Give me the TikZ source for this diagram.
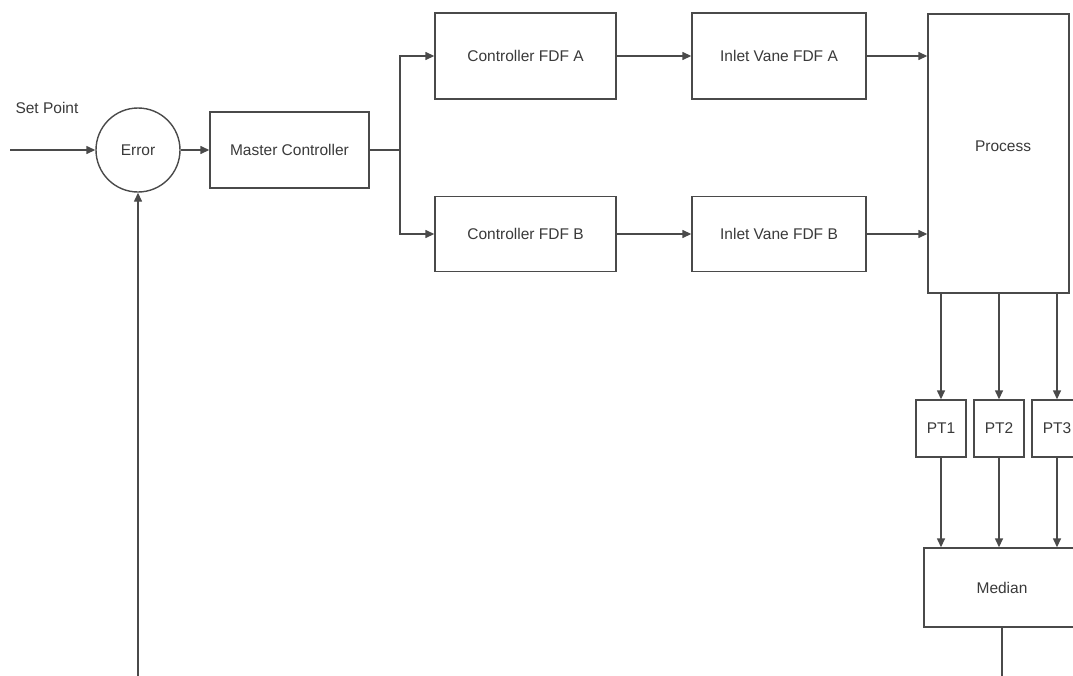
\documentclass[tikz,border=0pt]{standalone}
\usepackage{fontspec}
\setmainfont{Liberation Sans}
\usetikzlibrary{arrows.meta}
\definecolor{ln}{HTML}{4A4A4A}
\definecolor{tx}{HTML}{3A3A3A}
\begin{document}
\begin{tikzpicture}[x=1pt,y=-1pt,
  lbl/.style={text=tx,font=\fontsize{15.5}{17}\selectfont},
  blk/.style={draw=ln,line width=1.4pt,rectangle,inner sep=0pt,lbl},
  conn/.style={draw=ln,line width=1.4pt},
  arr/.style={conn,-{Triangle[length=9pt,width=8pt]}}]
\useasboundingbox (0,0) rectangle (1073,675);
\fill[white] (0,0) rectangle (1073,675);
\clip (0,0) rectangle (1073,675);
\node[blk,circle,minimum size=84pt] (err) at (138,150) {Error};
\node[blk,minimum width=159pt,minimum height=76pt] (mc) at (289.5,150) {Master Controller};
\node[blk,minimum width=181pt,minimum height=86pt] (ca) at (525.5,56) {Controller FDF A};
\node[blk,minimum width=181pt,minimum height=75pt] (cb) at (525.5,234) {Controller FDF B};
\node[blk,minimum width=174pt,minimum height=86pt] (ia) at (779,56) {Inlet Vane FDF A};
\node[blk,minimum width=174pt,minimum height=75pt] (ib) at (779,234) {Inlet Vane FDF B};
\node[blk,minimum width=141pt,minimum height=279pt] (proc) at (998.5,153.5) {};
\node[lbl] (proclbl) at (1003,146) {Process};
\node[blk,minimum width=50pt,minimum height=57pt] (pt1) at (941,428.5) {PT1};
\node[blk,minimum width=50pt,minimum height=57pt] (pt2) at (999,428.5) {PT2};
\node[blk,minimum width=50pt,minimum height=57pt] (pt3) at (1057,428.5) {PT3};
\node[blk,minimum width=156pt,minimum height=79pt] (med) at (1002,587.5) {Median};
\node[lbl,anchor=west] (sp) at (12,108) {Set Point};
\coordinate (in) at (10,150);
\coordinate (split) at (400,150);
\coordinate (fb) at (138,700);
\draw[arr] (in) -- (err.west);
\draw[arr] (err.east) -- (mc.west);
\draw[conn] (mc.east) -- (split);
\draw[arr] (split) |- (ca.west);
\draw[arr] (split) |- (cb.west);
\draw[arr] (ca.east) -- (ia.west);
\draw[arr] (cb.east) -- (ib.west);
\draw[arr] (ia.east) -- (ia.east -| proc.west);
\draw[arr] (ib.east) -- (ib.east -| proc.west);
\draw[arr] (pt1.north |- proc.south) -- (pt1.north);
\draw[arr] (pt2.north |- proc.south) -- (pt2.north);
\draw[arr] (pt3.north |- proc.south) -- (pt3.north);
\draw[arr] (pt1.south) -- (pt1.south |- med.north);
\draw[arr] (pt2.south) -- (pt2.south |- med.north);
\draw[arr] (pt3.south) -- (pt3.south |- med.north);
\draw[arr] (med.south) |- (fb) -- (err.south);
\end{tikzpicture}
\end{document}
